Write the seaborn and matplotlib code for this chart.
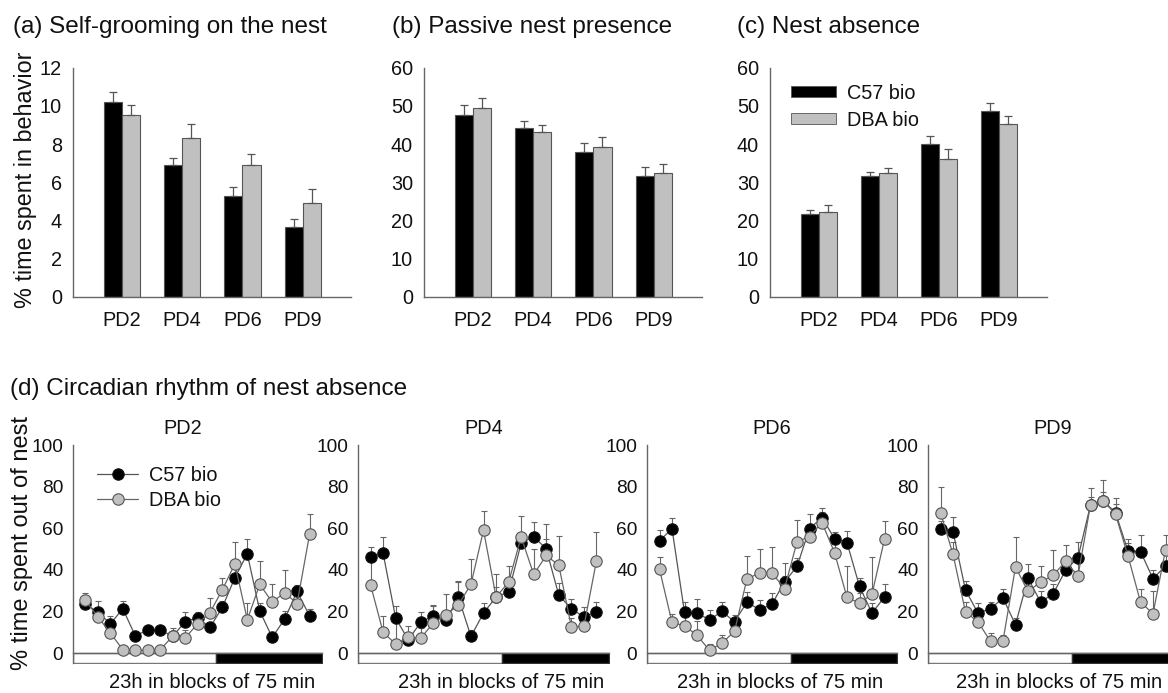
import numpy as np
import pandas as pd
import matplotlib
matplotlib.use("Agg")
import matplotlib.pyplot as plt
import seaborn as sns

# ---------------- data ----------------
days = ["PD2", "PD4", "PD6", "PD9"]
strains = ["C57 bio", "DBA bio"]

groom_c57 = [10.2, 6.9, 5.3, 3.65]
groom_dba = [9.52, 8.33, 6.9, 4.93]
groom_c57_err = [0.5, 0.35, 0.43, 0.44]
groom_dba_err = [0.5, 0.7, 0.58, 0.73]

passive_c57 = [47.6, 44.1, 38.0, 31.6]
passive_dba = [49.3, 43.1, 39.1, 32.4]
passive_c57_err = [2.7, 2.0, 2.2, 2.5]
passive_dba_err = [2.8, 1.8, 2.8, 2.3]

absence_c57 = [21.7, 31.7, 39.9, 48.5]
absence_dba = [22.3, 32.3, 36.2, 45.2]
absence_c57_err = [1.1, 1.05, 2.2, 2.2]
absence_dba_err = [1.7, 1.5, 2.4, 2.0]

blocks = list(range(1, 20))
light_end = 11.5
n_blocks_axis = 20

pd2_c57 = [23.5, 19.7, 14.0, 21.3, 8.3, 11.0, 11.2, 8.0, 15.0, 17.0, 12.3, 22.0, 36.2, 47.7, 20.2, 7.5, 16.3, 29.6, 17.9]
pd2_dba = [25.3, 17.4, 9.6, 1.6, 1.3, 1.3, 1.6, 8.0, 7.2, 14.0, 19.4, 30.4, 42.9, 16.0, 33.0, 24.5, 29.0, 23.8, 57.0]
pd2_c57_err = [3.5, 5.5, 3.6, 3.5, 2.0, 1.5, 1.5, 2.0, 4.5, 2.5, 2.0, 3.0, 4.0, 7.0, 4.0, 2.0, 4.0, 3.0, 3.5]
pd2_dba_err = [3.5, 3.0, 3.0, 1.0, 1.0, 1.0, 1.0, 4.0, 4.0, 3.0, 7.0, 5.6, 10.7, 8.0, 11.0, 8.5, 11.0, 8.0, 10.0]

pd4_c57 = [46.2, 48.0, 16.8, 6.4, 14.7, 18.0, 15.8, 26.7, 8.0, 19.2, 26.9, 29.3, 52.8, 56.0, 50.0, 27.8, 21.3, 17.3, 19.7]
pd4_dba = [32.8, 10.0, 4.3, 7.5, 7.2, 14.4, 18.2, 23.2, 33.0, 59.0, 27.0, 34.0, 55.8, 37.8, 46.9, 42.2, 12.6, 12.8, 44.3]
pd4_c57_err = [5.0, 8.0, 5.6, 3.0, 5.0, 5.0, 4.0, 7.7, 3.0, 4.8, 5.0, 5.0, 4.0, 7.0, 12.0, 6.0, 4.7, 5.0, 5.0]
pd4_dba_err = [13.0, 8.0, 14.0, 5.3, 5.0, 8.0, 10.0, 11.0, 12.0, 9.5, 11.0, 8.0, 10.0, 12.0, 8.0, 14.0, 4.0, 4.0, 14.0]

pd6_c57 = [53.9, 59.8, 19.5, 19.2, 16.0, 20.0, 15.0, 24.5, 20.8, 23.5, 34.2, 41.6, 59.8, 65.1, 55.0, 53.1, 32.0, 19.2, 26.9]
pd6_dba = [40.3, 14.7, 13.1, 8.5, 1.3, 4.8, 10.4, 35.7, 38.4, 38.4, 31.0, 53.4, 56.0, 62.7, 48.3, 26.7, 24.0, 28.3, 54.7]
pd6_c57_err = [5.4, 5.0, 5.0, 7.0, 4.5, 4.5, 3.4, 5.0, 4.8, 5.5, 9.0, 4.0, 7.0, 4.8, 3.0, 5.6, 4.0, 4.8, 6.4]
pd6_dba_err = [6.0, 4.0, 6.7, 7.0, 3.0, 4.0, 5.0, 10.7, 11.6, 12.8, 6.0, 10.6, 6.0, 5.0, 6.0, 15.0, 5.0, 18.0, 9.0]

pd9_c57 = [59.5, 58.4, 30.2, 19.2, 21.3, 26.4, 13.6, 36.0, 24.6, 28.3, 39.7, 45.9, 71.2, 73.3, 67.5, 49.0, 48.8, 35.7, 41.9]
pd9_dba = [67.5, 47.5, 19.7, 15.0, 5.6, 5.9, 41.4, 29.6, 34.0, 37.3, 44.0, 37.1, 71.2, 73.3, 66.7, 46.7, 24.5, 18.9, 49.6]
pd9_c57_err = [4.0, 7.0, 4.4, 5.0, 3.0, 4.5, 3.0, 7.0, 5.0, 5.0, 6.0, 7.7, 3.7, 4.0, 7.0, 5.7, 8.0, 4.3, 5.0]
pd9_dba_err = [12.5, 6.0, 5.0, 5.0, 4.0, 3.0, 14.6, 6.0, 8.0, 12.0, 8.0, 6.0, 8.0, 10.0, 5.0, 6.0, 6.5, 11.0, 7.0]

circ = {
    "PD2": (pd2_c57, pd2_c57_err, pd2_dba, pd2_dba_err),
    "PD4": (pd4_c57, pd4_c57_err, pd4_dba, pd4_dba_err),
    "PD6": (pd6_c57, pd6_c57_err, pd6_dba, pd6_dba_err),
    "PD9": (pd9_c57, pd9_c57_err, pd9_dba, pd9_dba_err),
}

# ---------------- style ----------------
sns.set_style("white")
plt.rcParams["font.family"] = ["Liberation Sans", "DejaVu Sans"]
plt.rcParams["text.color"] = "#111111"
plt.rcParams["axes.labelcolor"] = "#111111"
plt.rcParams["xtick.color"] = "#555555"
plt.rcParams["ytick.color"] = "#555555"
plt.rcParams["xtick.labelcolor"] = "#111111"
plt.rcParams["ytick.labelcolor"] = "#111111"

BLACK = "#000000"
GREY = "#c0c0c0"
EDGE = "#555555"
SPINE = "#666666"

W, H = 1168, 693
fig = plt.figure(figsize=(W / 100, H / 100), dpi=100)
fig.patch.set_facecolor("white")


def px_axes(left, top, right, bottom):
    return fig.add_axes([left / W, 1 - bottom / H, (right - left) / W, (bottom - top) / H])


def style_spines(ax):
    for s in ["top", "right"]:
        ax.spines[s].set_visible(False)
    for s in ["left", "bottom"]:
        ax.spines[s].set_color(SPINE)
        ax.spines[s].set_linewidth(1.0)


# ---------------- bar panels ----------------
bar_sets = [
    ("(a) Self-grooming on the nest", groom_c57, groom_dba, groom_c57_err, groom_dba_err, 12, 2, 73, 351, 13),
    ("(b) Passive nest presence", passive_c57, passive_dba, passive_c57_err, passive_dba_err, 60, 10, 424, 702, 392),
    ("(c) Nest absence", absence_c57, absence_dba, absence_c57_err, absence_dba_err, 60, 10, 770, 1047, 737),
]

for i, (title, c57, dba, ec57, edba, ymax, ystep, left, right, tx) in enumerate(bar_sets):
    ax = px_axes(left, 67.5, right, 297)
    df = pd.DataFrame({
        "day": days * 2,
        "strain": [strains[0]] * 4 + [strains[1]] * 4,
        "value": list(c57) + list(dba),
    })
    sns.barplot(data=df, x="day", y="value", hue="strain", order=days, hue_order=strains,
                palette={strains[0]: BLACK, strains[1]: GREY}, width=0.6, gap=0,
                errorbar=None, edgecolor=EDGE, linewidth=0.8, saturation=1, ax=ax,
                legend=(i == 2))
    for cont, errs in zip(ax.containers, [ec57, edba]):
        xs = [p.get_x() + p.get_width() / 2 for p in cont]
        hs = [p.get_height() for p in cont]
        ax.errorbar(xs, hs, yerr=[np.zeros(len(errs)), errs], fmt="none",
                    ecolor="#555555", elinewidth=0.9, capsize=3, capthick=0.9, zorder=1)
    ax.set_ylim(0, ymax)
    ax.set_xlim(-0.81, 3.8)
    ax.set_yticks(np.arange(0, ymax + 0.1, ystep))
    ax.set_xlabel("")
    ax.set_ylabel("")
    ax.tick_params(axis="y", direction="in", length=4, width=0.9, pad=8, labelsize=14.3)
    ax.tick_params(axis="x", length=0, pad=10, labelsize=14.3)
    style_spines(ax)
    fig.text(tx / W, 1 - 33 / H, title, fontsize=17.5, ha="left", va="baseline")
    if i == 2:
        leg = ax.legend(loc="upper left", bbox_to_anchor=(0.075, 0.93), frameon=False,
                        fontsize=14.3, handlelength=2.3, handleheight=0.45,
                        handletextpad=0.55, labelspacing=0.4, borderaxespad=0, borderpad=0)
        for h in leg.legend_handles:
            h.set_edgecolor(EDGE)
            h.set_linewidth(0.6)

fig.text(26 / W, 1 - 180 / H, "% time spent in behavior", rotation=90, fontsize=16.8,
         ha="center", va="center")

# ---------------- circadian panels ----------------
fig.text(10 / W, 1 - 395 / H, "(d) Circadian rhythm of nest absence", fontsize=17.5,
         ha="left", va="baseline")

circ_pos = [(73, 322), (358, 609), (647, 897), (928, 1178)]
xlabel_x = [0.558, 0.57, 0.532, 0.524]
for j, (day, (left, right)) in enumerate(zip(days, circ_pos)):
    c57, ec57, dba, edba = circ[day]
    ax = px_axes(left, 445, right, 663)
    ax.set_xlim(0, n_blocks_axis)
    ax.set_ylim(-4.8, 100)
    # light / dark bar
    ax.fill_between([0, light_end], -4.8, 0, facecolor="white", edgecolor="#777777",
                    linewidth=1.0, zorder=1)
    ax.fill_between([light_end, n_blocks_axis], -4.8, 0, facecolor="black",
                    edgecolor="#333333", linewidth=1.0, zorder=1)
    ax.errorbar(blocks, c57, yerr=[np.zeros(len(ec57)), ec57], fmt="none", ecolor="#666666",
                elinewidth=0.8, capsize=2.2, capthick=0.8, zorder=2)
    ax.errorbar(blocks, dba, yerr=[np.zeros(len(edba)), edba], fmt="none", ecolor="#666666",
                elinewidth=0.8, capsize=2.2, capthick=0.8, zorder=2)
    sns.lineplot(x=blocks, y=c57, ax=ax, color="#555555", linewidth=0.9, marker="o",
                 markersize=8.2, markerfacecolor="black", markeredgecolor="#111111",
                 markeredgewidth=0.8, label=strains[0], zorder=3, legend=False)
    sns.lineplot(x=blocks, y=dba, ax=ax, color="#666666", linewidth=0.9, marker="o",
                 markersize=8.2, markerfacecolor=GREY, markeredgecolor="#555555",
                 markeredgewidth=0.8, label=strains[1], zorder=4, legend=False)
    ax.spines["bottom"].set_position(("data", 0))
    style_spines(ax)
    ax.set_xticks(np.arange(1, n_blocks_axis + 1))
    ax.set_xticklabels([])
    ax.tick_params(axis="x", direction="in", length=4.5, width=0.8)
    ax.set_yticks(np.arange(0, 101, 20))
    ax.tick_params(axis="y", direction="in", length=4, width=0.9, pad=7, labelsize=13.8)
    ax.set_title(day, fontsize=14.3, pad=8, x=0.44 if j == 0 else 0.5)
    ax.set_xlabel("23h in blocks of 75 min", fontsize=14.5, va="top")
    ax.xaxis.set_label_coords(xlabel_x[j], -0.045)
    ax.set_ylabel("")
    if j == 0:
        ax.legend(loc="upper left", bbox_to_anchor=(0.095, 0.905), frameon=False, fontsize=14.3,
                  handlelength=2.1, handletextpad=0.55, labelspacing=0.3,
                  borderaxespad=0, borderpad=0)

fig.text(22 / W, 1 - 543 / H, "% time spent out of nest", rotation=90, fontsize=17,
         ha="center", va="center")

fig.savefig("out.png", dpi=100, facecolor="white")
